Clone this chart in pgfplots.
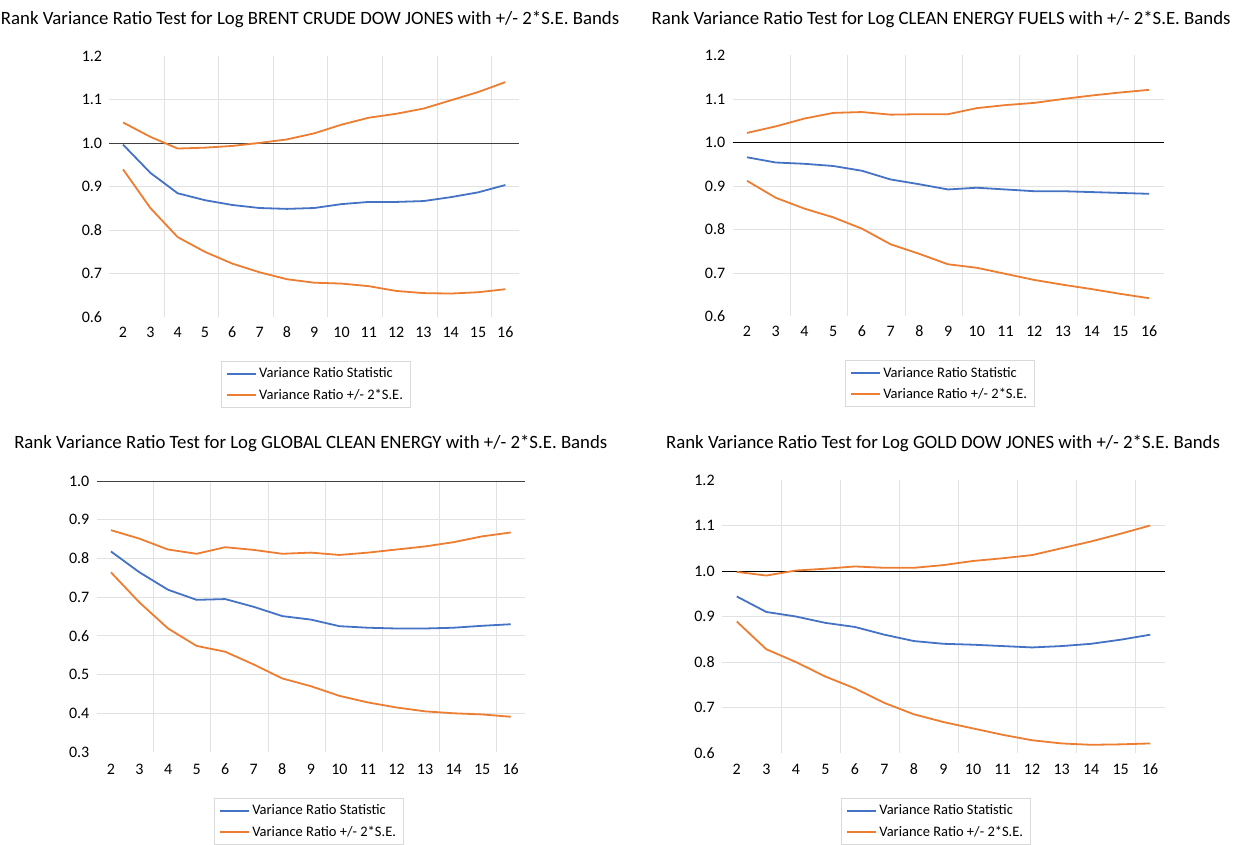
\documentclass[border=0pt]{standalone}
\usepackage{fontspec}
\setmainfont{Carlito}
\usepackage{pgfplots}
\pgfplotsset{compat=1.18}
\definecolor{xlblue}{HTML}{4472C4}
\definecolor{xlorange}{HTML}{ED7D31}
\definecolor{gridgray}{HTML}{E2E2E2}
\definecolor{legframe}{HTML}{D9D9D9}
\definecolor{oneline}{HTML}{404040}

\pgfplotsset{
 vrstyle/.style={
  scale only axis,
  xmin=1.5, xmax=16.5,
  xtick={2,3,4,5,6,7,8,9,10,11,12,13,14,15,16},
  axis line style={draw=none},
  major tick length=0pt,
  tick style={draw=none},
  /pgf/number format/assume math mode=true,
  ticklabel style={font=\fontsize{16}{19}\selectfont},
  xticklabel style={anchor=center, yshift=-15pt},
  yticklabel style={anchor=center, xshift=-17.5pt, /pgf/number format/.cd, fixed, fixed zerofill, precision=1},
  extra x ticks={3.5,5.5,7.5,9.5,11.5,13.5,15.5},
  extra x tick labels={},
  extra x tick style={grid=major, major grid style={gridgray, line width=0.9pt}},
  extra y tick labels={},
  extra y tick style={grid=major, major grid style={gridgray, line width=0.9pt}},
  title style={font=\fontsize{18.8}{22}\selectfont, anchor=center},
  legend style={draw=legframe, line width=0.8pt, fill=white, font=\fontsize{14.5}{17}\selectfont, legend cell align=left, anchor=north west, inner xsep=5pt, inner ysep=4.5pt, row sep=5.5pt},
  legend image code/.code={\draw[#1, line width=1.8pt] (0pt,0pt) -- (29pt,0pt);},
  clip=false,
  every axis plot/.append style={line width=1.8pt},
 }
}

\begin{document}
\begin{tikzpicture}[x=1pt,y=1pt]
\useasboundingbox (0,0) rectangle (1243,845);

% Chart 1
\begin{axis}[vrstyle, at={(109.4pt,528pt)}, anchor=south west, width=409.6pt, height=260.5pt,
  ymin=0.6, ymax=1.2, ytick={0.6,0.7,0.8,0.9,1.0,1.1,1.2}, extra y ticks={0.7,0.8,0.9,1.1},
  title={Rank Variance Ratio Test for Log BRENT CRUDE DOW JONES with +/- 2*S.E. Bands},
  title style={at={(0.490,1)}, yshift=31pt},
  legend style={at={(0.2725,-0.169)}}]
\addplot[oneline, line width=0.9pt, forget plot] coordinates {(1.5,1) (16.5,1)};
\addplot[xlblue] coordinates {(2,0.997) (3,0.932) (4,0.885) (5,0.869) (6,0.858) (7,0.851) (8,0.849) (9,0.851) (10,0.860) (11,0.865) (12,0.865) (13,0.867) (14,0.876) (15,0.887) (16,0.904)};
\addlegendentry{Variance Ratio Statistic}
\addplot[xlorange] coordinates {(2,1.048) (3,1.015) (4,0.988) (5,0.990) (6,0.994) (7,1.001) (8,1.009) (9,1.023) (10,1.043) (11,1.059) (12,1.068) (13,1.080) (14,1.099) (15,1.118) (16,1.141)};
\addlegendentry{Variance Ratio +/- 2*S.E.}
\addplot[xlorange, forget plot] coordinates {(2,0.940) (3,0.851) (4,0.784) (5,0.750) (6,0.723) (7,0.703) (8,0.687) (9,0.679) (10,0.677) (11,0.671) (12,0.660) (13,0.655) (14,0.654) (15,0.657) (16,0.664)};
\end{axis}

% Chart 2
\begin{axis}[vrstyle, at={(732.6pt,528.5pt)}, anchor=south west, width=430.9pt, height=261pt,
  ymin=0.6, ymax=1.2, ytick={0.6,0.7,0.8,0.9,1.0,1.1,1.2}, extra y ticks={0.7,0.8,0.9,1.1},
  title={Rank Variance Ratio Test for Log CLEAN ENERGY FUELS with +/- 2*S.E. Bands},
  title style={at={(0.484,1)}, yshift=30pt},
  legend style={at={(0.261,-0.167)}}]
\addplot[black, line width=0.9pt, forget plot] coordinates {(1.5,1) (16.5,1)};
\addplot[xlblue] coordinates {(2,0.966) (3,0.954) (4,0.951) (5,0.946) (6,0.935) (7,0.915) (8,0.904) (9,0.892) (10,0.896) (11,0.892) (12,0.888) (13,0.888) (14,0.886) (15,0.884) (16,0.882)};
\addlegendentry{Variance Ratio Statistic}
\addplot[xlorange] coordinates {(2,1.022) (3,1.037) (4,1.055) (5,1.068) (6,1.070) (7,1.064) (8,1.065) (9,1.065) (10,1.079) (11,1.086) (12,1.091) (13,1.100) (14,1.108) (15,1.115) (16,1.121)};
\addlegendentry{Variance Ratio +/- 2*S.E.}
\addplot[xlorange, forget plot] coordinates {(2,0.912) (3,0.873) (4,0.848) (5,0.828) (6,0.802) (7,0.766) (8,0.744) (9,0.720) (10,0.712) (11,0.698) (12,0.684) (13,0.673) (14,0.663) (15,0.652) (16,0.642)};
\end{axis}

% Chart 3
\begin{axis}[vrstyle, at={(96.7pt,93pt)}, anchor=south west, width=428.3pt, height=271pt,
  ymin=0.3, ymax=1.0, ytick={0.3,0.4,0.5,0.6,0.7,0.8,0.9,1.0}, extra y ticks={0.4,0.5,0.6,0.7,0.8,0.9},
  title={Rank Variance Ratio Test for Log GLOBAL CLEAN ENERGY with +/- 2*S.E. Bands},
  title style={at={(0.5,1)}, yshift=32pt},
  xticklabel style={yshift=-2pt},
  legend style={at={(0.274,-0.170)}}]
\addplot[oneline, line width=0.9pt, forget plot] coordinates {(1.5,1) (16.5,1)};
\addplot[xlblue] coordinates {(2,0.818) (3,0.764) (4,0.719) (5,0.693) (6,0.695) (7,0.675) (8,0.651) (9,0.642) (10,0.625) (11,0.621) (12,0.619) (13,0.619) (14,0.621) (15,0.626) (16,0.630)};
\addlegendentry{Variance Ratio Statistic}
\addplot[xlorange] coordinates {(2,0.873) (3,0.851) (4,0.823) (5,0.812) (6,0.829) (7,0.822) (8,0.812) (9,0.815) (10,0.809) (11,0.815) (12,0.823) (13,0.831) (14,0.842) (15,0.857) (16,0.867)};
\addlegendentry{Variance Ratio +/- 2*S.E.}
\addplot[xlorange, forget plot] coordinates {(2,0.764) (3,0.686) (4,0.619) (5,0.574) (6,0.559) (7,0.526) (8,0.490) (9,0.470) (10,0.445) (11,0.428) (12,0.415) (13,0.405) (14,0.400) (15,0.397) (16,0.391)};
\end{axis}

% Chart 4
\begin{axis}[vrstyle, at={(722pt,92pt)}, anchor=south west, width=443pt, height=273pt,
  ymin=0.6, ymax=1.2, ytick={0.6,0.7,0.8,0.9,1.0,1.1,1.2}, extra y ticks={0.7,0.8,0.9,1.1},
  title={Rank Variance Ratio Test for Log GOLD DOW JONES with +/- 2*S.E. Bands},
  title style={at={(0.499,1)}, yshift=31pt},
  xticklabel style={yshift=-1pt},
  legend style={at={(0.269,-0.165)}}]
\addplot[black, line width=0.9pt, forget plot] coordinates {(1.5,1) (16.5,1)};
\addplot[xlblue] coordinates {(2,0.944) (3,0.910) (4,0.900) (5,0.886) (6,0.877) (7,0.860) (8,0.846) (9,0.840) (10,0.838) (11,0.835) (12,0.832) (13,0.835) (14,0.840) (15,0.849) (16,0.860)};
\addlegendentry{Variance Ratio Statistic}
\addplot[xlorange] coordinates {(2,0.998) (3,0.990) (4,1.001) (5,1.005) (6,1.010) (7,1.007) (8,1.007) (9,1.013) (10,1.022) (11,1.028) (12,1.035) (13,1.050) (14,1.065) (15,1.082) (16,1.100)};
\addlegendentry{Variance Ratio +/- 2*S.E.}
\addplot[xlorange, forget plot] coordinates {(2,0.889) (3,0.828) (4,0.800) (5,0.768) (6,0.742) (7,0.710) (8,0.685) (9,0.668) (10,0.654) (11,0.640) (12,0.628) (13,0.621) (14,0.618) (15,0.619) (16,0.621)};
\end{axis}
\end{tikzpicture}
\end{document}
